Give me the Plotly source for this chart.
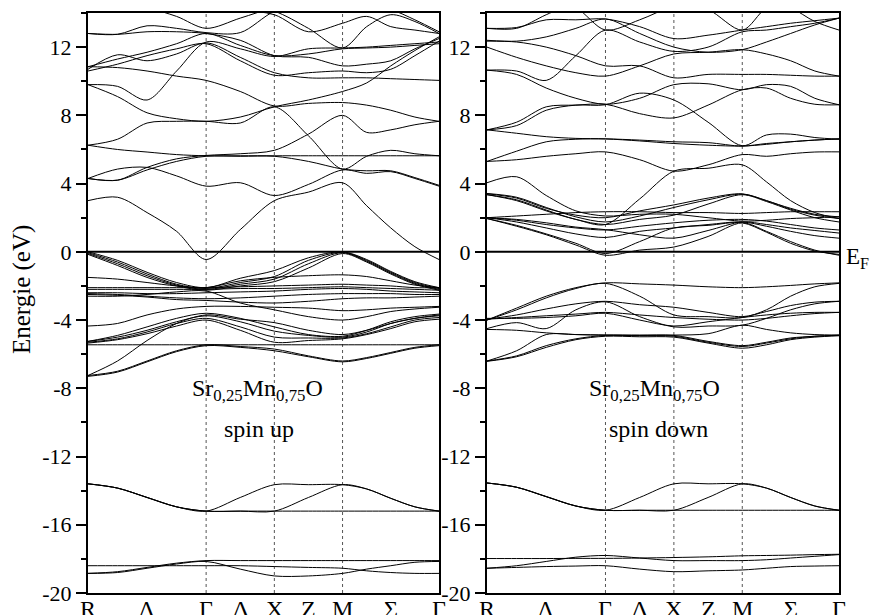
import plotly.graph_objects as go

# k-path (R - Γ - X - M - Γ) cumulative distances, 13 sample points
K = [0, 0.2165, 0.433, 0.6495, 0.866, 1.116, 1.366, 1.616, 1.866, 2.0428, 2.2195, 2.3963, 2.573]
SYM_K = [0, 0.433, 0.866, 1.116, 1.366, 1.616, 1.866, 2.2195, 2.573]
SYM_LABELS = ["R", "Λ", "Γ", "Δ", "X", "Z", "M", "Σ", "Γ"]
VLINES_K = [0.866, 1.366, 1.866]
Y_TICKS = [-20, -16, -12, -8, -4, 0, 4, 8, 12]
Y_TICK_LABELS = ["-20", "-16", "-12", "-8", "-4", "0", "4", "8", "12"]

# ---------------- spin up ----------------
up_core = [
    [-18.85, -18.75, -18.5, -18.25, -18.1, -18.1, -18.1, -18.1, -18.1, -18.1, -18.1, -18.1, -18.1],
    [-18.85, -18.8, -18.55, -18.3, -18.15, -18.6, -19.0, -19.0, -18.85, -18.6, -18.4, -18.2, -18.15],
    [-18.4, -18.4, -18.4, -18.4, -18.4, -18.4, -18.45, -18.5, -18.55, -18.7, -18.8, -18.85, -18.85],
]
up_semicore = [
    [-13.6, -13.85, -14.4, -14.95, -15.2, -15.2, -15.2, -15.2, -15.2, -15.2, -15.2, -15.2, -15.2],
    [-13.6, -13.85, -14.4, -14.95, -15.2, -14.4, -13.65, -13.65, -13.65, -13.9, -14.45, -14.95, -15.2],
    [-13.6, -13.85, -14.4, -14.95, -15.2, -15.2, -15.2, -14.4, -13.65, -13.9, -14.45, -14.95, -15.2],
]
up_valence = [
    [0.0, -0.5, -1.2, -1.8, -2.1, -1.55, -1.1, -0.35, 0.0, -0.45, -1.15, -1.75, -2.1],
    [-0.05, -0.6, -1.3, -1.9, -2.15, -1.8, -1.45, -0.5, -0.03, -0.5, -1.2, -1.8, -2.15],
    [-0.1, -0.7, -1.4, -1.95, -2.2, -1.9, -1.6, -0.7, -0.05, -0.55, -1.25, -1.85, -2.2],
    [-0.15, -0.8, -1.5, -2.0, -2.25, -2.0, -1.75, -0.95, -0.1, -0.6, -1.3, -1.9, -2.25],
    [-1.5, -1.6, -1.8, -2.0, -2.1, -1.7, -1.5, -1.4, -1.35, -1.45, -1.7, -1.95, -2.1],
    [-2.1, -2.1, -2.1, -2.1, -2.1, -2.05, -2.0, -1.95, -1.9, -1.95, -2.0, -2.1, -2.1],
    [-2.2, -2.2, -2.2, -2.2, -2.2, -2.15, -2.15, -2.1, -2.05, -2.1, -2.15, -2.2, -2.25],
    [-2.4, -2.4, -2.45, -2.45, -2.4, -2.35, -2.3, -2.2, -2.15, -2.2, -2.3, -2.35, -2.4],
    [-2.45, -2.5, -2.6, -2.7, -2.75, -2.7, -2.6, -2.5, -2.45, -2.45, -2.45, -2.5, -2.5],
    [-2.5, -2.55, -2.65, -2.8, -2.85, -2.95, -3.0, -2.9, -2.75, -2.7, -2.7, -2.65, -2.6],
    [-2.6, -2.6, -2.5, -2.35, -2.3, -3.0, -3.4, -3.8, -4.0, -3.8, -3.5, -3.35, -3.25],
    [-4.35, -4.2, -3.7, -3.35, -3.2, -3.2, -3.25, -3.3, -3.45, -3.4, -3.3, -3.25, -3.2],
    [-5.25, -4.9, -4.4, -3.9, -3.6, -3.9, -4.4, -4.85, -4.95, -4.6, -4.1, -3.8, -3.65],
    [-5.25, -5.0, -4.6, -4.1, -3.75, -4.1, -4.65, -4.9, -5.0, -4.7, -4.2, -3.9, -3.75],
    [-5.3, -5.1, -4.7, -4.2, -3.9, -4.4, -5.0, -5.05, -5.05, -4.8, -4.4, -4.0, -3.85],
    [-5.35, -5.15, -4.8, -4.35, -4.0, -4.6, -5.3, -5.2, -5.1, -4.85, -4.5, -4.1, -3.95],
    [-5.45, -5.45, -5.45, -5.45, -5.45, -5.45, -5.45, -5.45, -5.45, -5.45, -5.45, -5.45, -5.45],
    [-7.25, -7.0, -6.4, -5.8, -5.45, -5.55, -5.7, -6.1, -6.4, -6.2, -5.9, -5.6, -5.45],
    [-7.3, -7.05, -6.45, -5.85, -5.5, -5.6, -5.8, -6.15, -6.45, -6.25, -5.95, -5.65, -5.5],
    [-7.25, -6.4, -5.2, -4.2, -3.7, -3.95, -4.15, -4.6, -4.85, -4.6, -4.2, -3.9, -3.7],
]
up_cond_low = [
    [3.0, 3.2, 2.3, 1.2, -0.45, 1.3, 3.0, 3.5, 4.05, 2.7, 1.4, 0.3, -0.45],
    [4.3, 4.85, 4.95, 4.45, 3.85, 4.05, 3.3, 3.95, 4.8, 4.6, 4.7, 4.3, 3.85],
    [4.3, 4.2, 4.8, 5.3, 5.6, 5.6, 5.6, 5.3, 4.85, 4.75, 4.75, 4.35, 3.9],
    [4.3, 4.2, 4.95, 5.45, 5.65, 5.75, 5.95, 6.9, 8.0, 7.0, 7.15, 7.45, 7.65],
    [6.25, 6.0, 5.85, 5.7, 5.63, 5.63, 5.63, 5.63, 5.63, 5.63, 5.63, 5.63, 5.63],
    [6.25, 6.6, 7.55, 7.65, 7.65, 7.55, 8.5, 6.8, 4.85, 5.6, 5.95, 5.75, 5.63],
]
up_cond_high = [
    [9.8, 9.7, 8.9, 10.6, 12.3, 11.9, 11.45, 11.9, 11.95, 12.0, 12.1, 12.2, 12.3],
    [10.6, 11.0, 11.5, 11.9, 12.2, 11.2, 10.35, 10.5, 10.6, 10.5, 10.7, 11.5, 12.35],
    [10.7, 11.55, 11.2, 11.6, 12.25, 11.4, 10.5, 10.2, 10.2, 10.2, 10.15, 10.1, 10.05],
    [10.85, 10.8, 10.6, 10.3, 10.05, 9.4, 8.55, 8.7, 8.75, 8.6, 8.3, 7.9, 7.65],
    [9.8, 9.1, 8.15, 7.8, 7.65, 7.9, 8.5, 8.9, 9.4, 9.9, 10.9, 11.8, 12.6],
    [12.8, 12.75, 12.9, 12.9, 12.8, 12.4, 11.5, 11.4, 10.9, 11.0, 11.2, 11.9, 12.5],
    [10.85, 11.3, 11.7, 12.2, 12.8, 12.1, 11.5, 11.6, 11.9, 11.95, 12.0, 12.1, 12.2],
    [12.8, 12.75, 13.25, 13.1, 12.85, 12.85, 14.1, 14.6, 14.6, 14.6, 14.6, 14.6, 14.6],
    [14.6, 14.5, 14.3, 13.8, 13.1, 13.7, 14.3, 14.5, 14.5, 14.4, 14.2, 13.6, 12.9],
    [14.6, 14.6, 14.6, 14.6, 14.6, 14.4, 14.1, 13.1, 11.95, 13.2, 13.9, 13.5, 12.8],
    [14.6, 14.6, 14.6, 14.6, 14.6, 14.2, 13.9, 12.9, 13.4, 13.8, 13.2, 13.0, 12.8],
]

# ---------------- spin down ----------------
down_core = [
    [-17.98, -17.98, -17.98, -17.97, -17.97, -17.95, -17.92, -17.88, -17.82, -17.8, -17.78, -17.75, -17.73],
    [-18.55, -18.4, -18.15, -17.9, -17.8, -17.95, -18.1, -18.1, -18.1, -18.05, -17.95, -17.85, -17.75],
    [-18.55, -18.5, -18.45, -18.42, -18.4, -18.6, -18.75, -18.7, -18.65, -18.55, -18.45, -18.42, -18.4],
]
down_semicore = [
    [-13.55, -13.8, -14.35, -14.9, -15.15, -15.15, -15.15, -15.15, -15.15, -15.15, -15.15, -15.15, -15.15],
    [-13.55, -13.8, -14.35, -14.9, -15.15, -14.4, -13.6, -13.6, -13.6, -13.85, -14.4, -14.9, -15.15],
    [-13.55, -13.8, -14.35, -14.9, -15.15, -15.15, -15.15, -14.4, -13.6, -13.85, -14.4, -14.9, -15.15],
]
down_valence = [
    [-4.0, -3.3, -2.6, -2.1, -1.82, -1.88, -1.95, -2.05, -2.1, -2.05, -1.97, -1.88, -1.82],
    [-4.0, -3.4, -2.7, -2.15, -1.85, -2.6, -3.7, -3.8, -3.85, -3.4, -2.6, -2.05, -1.85],
    [-3.95, -3.7, -3.35, -3.05, -2.9, -3.1, -3.25, -3.55, -3.8, -3.5, -3.15, -2.95, -2.9],
    [-4.5, -4.15, -4.5, -3.4, -2.93, -3.8, -4.4, -4.35, -4.3, -3.9, -3.4, -3.05, -2.9],
    [-3.95, -3.85, -3.75, -3.65, -3.55, -3.7, -3.85, -3.95, -4.0, -3.9, -3.75, -3.62, -3.55],
    [-3.9, -3.9, -3.85, -3.75, -3.6, -4.0, -4.35, -4.1, -3.85, -3.7, -3.6, -3.55, -3.55],
    [-4.55, -4.6, -4.75, -4.85, -4.88, -4.9, -4.88, -4.8, -4.3, -4.55, -4.75, -4.85, -4.88],
    [-6.4, -6.1, -5.5, -5.1, -4.9, -4.92, -4.95, -5.3, -5.55, -5.35, -5.1, -4.95, -4.9],
    [-6.42, -6.15, -5.6, -5.15, -4.95, -4.98, -5.0, -5.35, -5.65, -5.45, -5.15, -5.0, -4.92],
    [-6.4, -5.8, -4.85, -4.85, -4.88, -4.88, -4.9, -5.25, -5.5, -5.3, -5.05, -4.95, -4.88],
]
down_cond_low = [
    [1.95, 1.5, 1.0, 0.4, -0.2, 0.1, 0.28, 0.9, 1.7, 1.2, 0.6, 0.1, -0.2],
    [1.95, 1.55, 1.05, 0.5, -0.1, 0.6, 1.4, 1.55, 1.7, 1.15, 0.5, 0.05, -0.15],
    [2.0, 1.75, 1.4, 1.05, 0.84, 1.2, 1.4, 1.6, 1.75, 1.5, 1.2, 0.95, 0.8],
    [2.0, 1.9, 1.7, 1.45, 1.3, 1.0, 0.8, 1.25, 1.75, 1.6, 1.4, 1.25, 1.1],
    [2.0, 1.85, 1.6, 1.4, 1.28, 1.5, 1.7, 1.85, 1.9, 1.8, 1.6, 1.4, 1.28],
    [2.0, 2.1, 2.2, 2.3, 2.35, 2.35, 2.3, 2.3, 2.25, 2.3, 2.35, 2.35, 2.35],
    [3.4, 3.15, 2.55, 2.15, 2.0, 2.4, 2.75, 3.15, 3.4, 3.0, 2.55, 2.2, 2.05],
    [3.42, 3.2, 2.6, 2.05, 1.75, 2.1, 2.6, 3.05, 3.38, 3.0, 2.5, 2.15, 1.95],
    [3.35, 3.05, 2.45, 1.9, 1.6, 1.9, 2.15, 2.8, 3.35, 2.95, 2.45, 2.0, 1.75],
    [4.05, 4.4, 3.3, 2.4, 2.1, 2.2, 2.2, 2.0, 1.8, 1.85, 1.95, 2.0, 2.05],
    [3.35, 3.0, 2.4, 1.9, 1.6, 3.1, 4.73, 4.9, 5.1, 4.1, 3.0, 2.3, 1.95],
]
down_cond_high = [
    [5.3, 5.4, 5.6, 5.75, 5.86, 5.4, 4.73, 5.1, 5.7, 5.6, 5.75, 5.85, 5.86],
    [5.3, 5.9, 6.45, 6.6, 6.62, 6.55, 6.45, 6.4, 6.2, 6.35, 6.45, 6.55, 6.62],
    [7.15, 6.95, 6.75, 6.65, 6.62, 6.5, 6.35, 6.25, 6.2, 6.3, 6.45, 6.55, 6.62],
    [7.15, 7.4, 8.3, 8.6, 8.62, 9.3, 8.9, 7.6, 6.22, 6.85, 6.9, 6.7, 6.6],
    [7.15, 7.6, 8.5, 8.6, 8.65, 8.1, 7.85, 8.6, 9.5, 9.6, 9.0, 8.65, 8.62],
    [10.65, 10.4, 9.6, 9.0, 8.65, 9.0, 9.8, 9.85, 9.5, 9.8, 9.7, 9.0, 8.62],
    [10.65, 10.6, 10.05, 11.5, 13.0, 12.3, 11.75, 12.0, 12.9, 13.0, 13.2, 13.4, 13.7],
    [12.0, 11.4, 10.9, 10.5, 10.3, 10.9, 11.6, 11.7, 11.85, 11.6, 11.2, 10.6, 10.3],
    [12.35, 12.3, 12.0, 11.5, 10.9, 10.9, 10.2, 10.4, 10.4, 10.4, 10.35, 10.3, 10.3],
    [12.4, 12.35, 12.6, 13.1, 13.65, 12.8, 12.0, 11.7, 11.85, 12.3, 12.8, 13.3, 13.7],
    [13.1, 13.15, 13.6, 13.6, 13.65, 13.2, 12.5, 12.7, 13.0, 13.2, 13.4, 13.55, 13.7],
    [13.1, 13.1, 13.9, 14.6, 14.6, 14.6, 14.6, 14.2, 13.0, 14.3, 14.6, 14.6, 14.6],
    [14.6, 14.6, 14.6, 14.3, 13.0, 13.6, 14.4, 14.6, 14.6, 14.6, 14.3, 13.5, 13.0],
]

SERIF = "Liberation Serif, Times New Roman, serif"
fig = go.Figure()

panels = [
    ("x", "y", [up_core, up_semicore, up_valence, up_cond_low, up_cond_high]),
    ("x2", "y2", [down_core, down_semicore, down_valence, down_cond_low, down_cond_high]),
]
for xa, ya, groups in panels:
    for grp in groups:
        for band in grp:
            fig.add_trace(go.Scatter(
                x=K, y=band, xaxis=xa, yaxis=ya, mode="lines",
                line=dict(color="black", width=1, shape="spline", smoothing=0.9),
                showlegend=False, hoverinfo="skip"))

shapes = []
for xr, yr in [("x", "y"), ("x2", "y2")]:
    for kv in VLINES_K:
        shapes.append(dict(type="line", xref=xr, yref=yr, x0=kv, x1=kv, y0=-20, y1=14,
                           line=dict(color="#555", width=1, dash="dot"), layer="below"))
    shapes.append(dict(type="line", xref=xr, yref=yr, x0=K[0], x1=K[-1], y0=0, y1=0,
                       line=dict(color="black", width=2)))
fig.update_layout(shapes=shapes)

W, H = 870, 615
xdom1 = [88 / W, 439 / W]
xdom2 = [487 / W, 839 / W]
ydom = [(H - 593) / H, (H - 13) / H]

xcommon = dict(range=[K[0], K[-1]], showticklabels=False, ticks="",
               showgrid=False, zeroline=False, showline=True, mirror=True, automargin=False,
               linecolor="black", linewidth=2)
ycommon = dict(range=[-20, 14], tickvals=Y_TICKS, ticktext=Y_TICK_LABELS, ticks="outside",
               ticklen=10, tickwidth=1.5, tickcolor="black", automargin=False,
               minor=dict(dtick=2, tick0=0, ticks="outside", ticklen=5, tickwidth=1.5, tickcolor="black"),
               showgrid=False, zeroline=False, showline=True, mirror=True,
               linecolor="black", linewidth=2, tickfont=dict(family=SERIF, size=22, color="black"))

fig.update_layout(
    width=W, height=H, margin=dict(l=0, r=0, t=0, b=0, autoexpand=False),
    paper_bgcolor="white", plot_bgcolor="white",
    xaxis=dict(domain=xdom1, anchor="y", **xcommon),
    xaxis2=dict(domain=xdom2, anchor="y2", **xcommon),
    yaxis=dict(domain=ydom, anchor="x", **ycommon),
    yaxis2=dict(domain=ydom, anchor="x2", **ycommon),
)

ann_font = dict(family=SERIF, size=24, color="black")
annotations = [
    dict(text="Sr<sub>0,25</sub>Mn<sub>0,75</sub>O", x=1.246, y=-8.1, xref="x", yref="y",
         showarrow=False, font=ann_font),
    dict(text="spin up", x=1.25, y=-10.4, xref="x", yref="y", showarrow=False, font=ann_font),
    dict(text="Sr<sub>0,25</sub>Mn<sub>0,75</sub>O", x=1.222, y=-8.1, xref="x2", yref="y2",
         showarrow=False, font=ann_font),
    dict(text="spin down", x=1.25, y=-10.4, xref="x2", yref="y2", showarrow=False, font=ann_font),
    dict(text="E<sub>F</sub>", x=844 / W, y=(H - 258) / H, xref="paper", yref="paper",
         xanchor="left", yanchor="middle", showarrow=False,
         font=dict(family=SERIF, size=23, color="black")),
    dict(text="Energie (eV)", x=22 / W, y=(H - 290) / H, xref="paper", yref="paper",
         xanchor="center", yanchor="middle",
         textangle=-90, showarrow=False, font=dict(family=SERIF, size=25, color="black")),
]
# k-point labels under each panel
for xr, yr in [("x", "y"), ("x2", "y2")]:
    for kv, lab in zip(SYM_K, SYM_LABELS):
        annotations.append(dict(text=lab, x=kv, y=-20, xref=xr, yref=yr, xanchor="center",
                                yanchor="top", yshift=-1, showarrow=False,
                                font=dict(family=SERIF, size=24, color="black")))
fig.update_layout(annotations=annotations)

fig.write_html("out.html", config={"displayModeBar": False},
               post_script="document.body.style.margin='0';document.body.style.overflow='hidden';")
